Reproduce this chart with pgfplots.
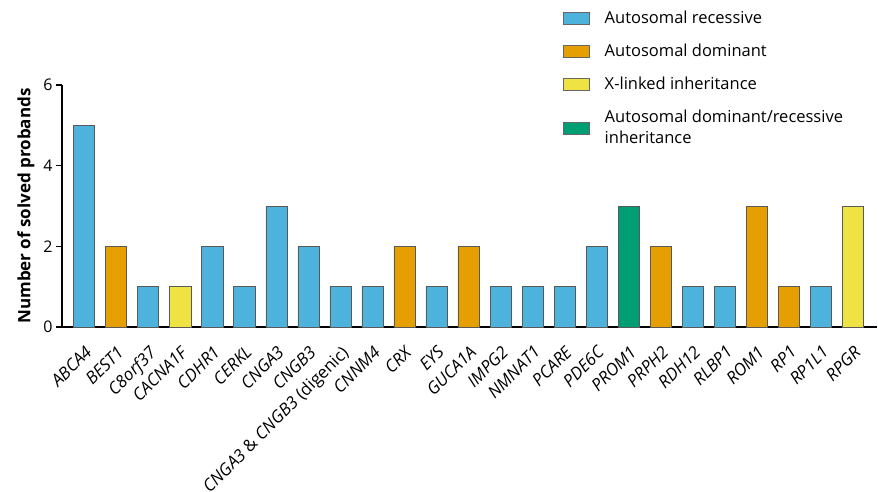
\documentclass[border=0pt]{standalone}
\usepackage{pgfplots}
\pgfplotsset{compat=1.18}
\usepackage{fontspec}
\setmainfont{Open Sans}
\definecolor{ar}{HTML}{4DB3DD}
\definecolor{ad}{HTML}{E69F00}
\definecolor{xl}{HTML}{EFE344}
\definecolor{adr}{HTML}{009E73}
\begin{document}
\begin{tikzpicture}
\useasboundingbox (-62bp,-165bp) rectangle (816bp,327bp);
\begin{axis}[
  at={(0,0)}, anchor=south west,
  scale only axis, width=815bp, height=242bp,
  xmin=-0.69, xmax=24.75, ymin=0, ymax=6,
  axis x line*=bottom, axis y line*=left,
  axis line style={line width=1.6bp, -},
  ytick={0,2,4,6},
  ytick style={line width=1.6bp, black},
  major tick length=6bp,
  tick align=outside,
  xtick={0,...,24},
  x tick style={draw=none},
  xticklabels={\textit{ABCA4},\textit{BEST1},\textit{C8orf37},\textit{CACNA1F},\textit{CDHR1},\textit{CERKL},\textit{CNGA3},\textit{CNGB3},{\textit{CNGA3} \& \textit{CNGB3} (digenic)},\textit{CNNM4},\textit{CRX},\textit{EYS},\textit{GUCA1A},\textit{IMPG2},\textit{NMNAT1},\textit{PCARE},\textit{PDE6C},\textit{PROM1},\textit{PRPH2},\textit{RDH12},\textit{RLBP1},\textit{ROM1},\textit{RP1},\textit{RP1L1},\textit{RPGR}},
  xticklabel style={xshift=0bp, yshift=-10bp, rotate=45, anchor=north east, font=\fontsize{17bp}{20bp}\selectfont, inner sep=1bp},
  yticklabel style={font=\fontsize{16bp}{19bp}\selectfont},
  /pgf/number format/assume math mode=true,
  ylabel={\bfseries Number of solved probands},
  ylabel style={font=\fontsize{17bp}{20bp}\selectfont, at={(ticklabel cs:0.5)}, yshift=2bp},
  ybar, bar width=0.66, bar shift=0pt,
  legend style={at={(0.611,1.322)}, anchor=north west, draw=none, fill=none,
    font=\fontsize{16.5bp}{21bp}\selectfont, row sep=15bp, column sep=13bp,
    cells={anchor=west, align=left}},
  legend image code/.code={\draw[#1, draw=gray!80!black, line width=0.6bp] (0bp,-6bp) rectangle (26bp,6bp);},
  legend cell align=left,
]
\addplot[fill=ar, draw=gray!70!black, line width=0.5bp] coordinates {
 (0,5) (2,1) (4,2) (5,1) (6,3) (7,2) (8,1) (9,1) (11,1) (13,1) (14,1) (15,1) (16,2) (19,1) (20,1) (23,1)};
\addlegendentry{Autosomal recessive}
\addplot[fill=ad, draw=gray!70!black, line width=0.5bp] coordinates {
 (1,2) (10,2) (12,2) (18,2) (21,3) (22,1)};
\addlegendentry{Autosomal dominant}
\addplot[fill=xl, draw=gray!70!black, line width=0.5bp] coordinates {
 (3,1) (24,3)};
\addlegendentry{X-linked inheritance}
\addplot[fill=adr, draw=gray!70!black, line width=0.5bp] coordinates {
 (17,3)};
\addlegendentry{Autosomal dominant/recessive\\inheritance}
\end{axis}
\end{tikzpicture}
\end{document}
